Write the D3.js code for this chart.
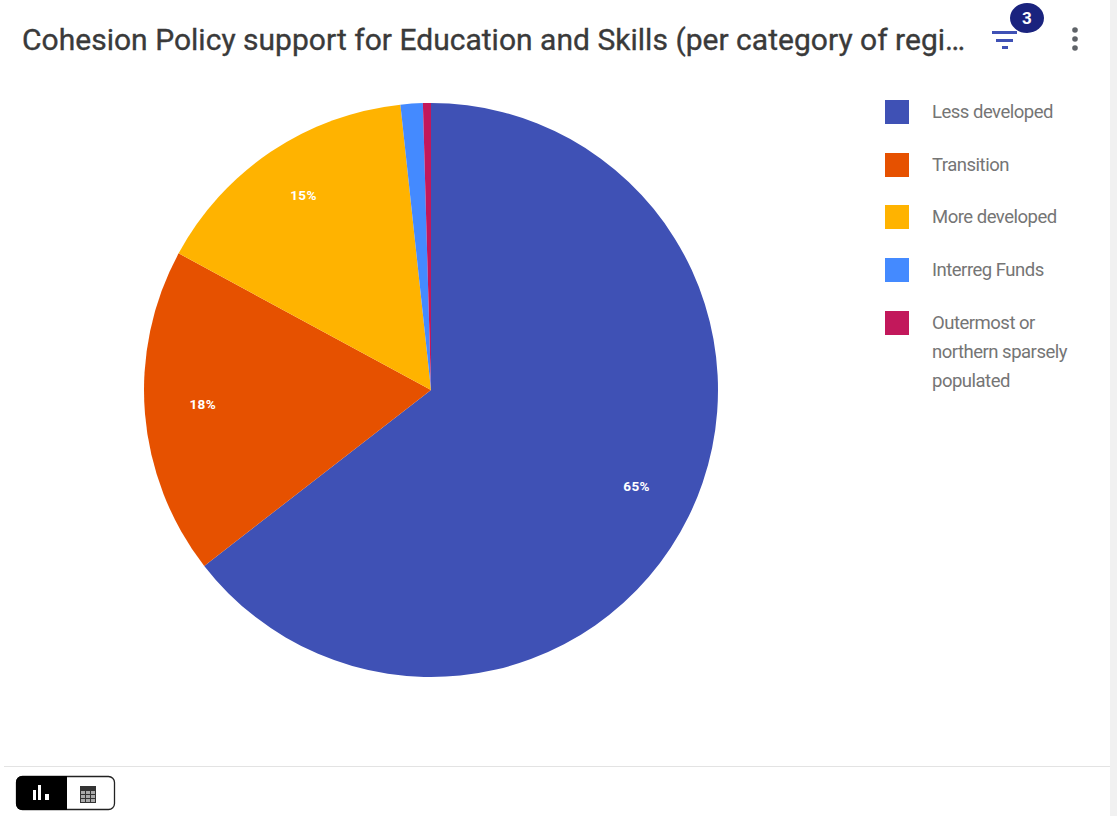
<!DOCTYPE html>
<html>
<head>
<meta charset="utf-8">
<title>Cohesion Policy support for Education and Skills</title>
<script src="https://cdn.jsdelivr.net/npm/d3@7/dist/d3.min.js"></script>
<style>
  html, body { margin: 0; padding: 0; background: #fff; overflow: hidden; }
  svg { display: block; font-family: Roboto, sans-serif; }
</style>
</head>
<body>
<svg id="chart" width="1117" height="816"></svg>
<script>
// Share of funding per category of region, in percent
const categories = ["Less developed", "Transition", "More developed", "Interreg Funds", "Outermost or northern sparsely populated"];
const shares = [64.5, 18.4, 15.4, 1.25, 0.45];
const sliceColors = ["#3f51b5", "#e65100", "#ffb300", "#448aff", "#c2185b"];
const legendLines = [["Less developed"], ["Transition"], ["More developed"], ["Interreg Funds"], ["Outermost or", "northern sparsely", "populated"]];
const titleText = "Cohesion Policy support for Education and Skills (per category of regi…";
const filterCount = "3";
const minLabelShare = 5;

const svg = d3.select("#chart");

// Pie
const cx = 431, cy = 390, radius = 287, labelRadius = 229;
const pie = d3.pie().value(d => d.share).sort(null);
const arc = d3.arc().innerRadius(0).outerRadius(radius);
const labelArc = d3.arc().innerRadius(labelRadius).outerRadius(labelRadius);
const rows = categories.map((name, i) => ({ name, share: shares[i], color: sliceColors[i] }));
const arcs = pie(rows);

const pieG = svg.append("g").attr("transform", `translate(${cx},${cy})`);
pieG.selectAll("path").data(arcs).join("path")
  .attr("d", arc)
  .attr("fill", d => d.data.color);

pieG.selectAll("text").data(arcs.filter(d => d.data.share >= minLabelShare)).join("text")
  .attr("transform", d => `translate(${labelArc.centroid(d)})`)
  .attr("text-anchor", "middle")
  .attr("fill", "#fff")
  .attr("font-size", 13.5)
  .attr("letter-spacing", "0.4px")
  .attr("font-weight", 700)
  .text(d => `${Math.round(d.data.share)}%`);

// Title bar
svg.append("text")
  .attr("x", 22).attr("y", 50)
  .attr("font-size", 30)
  .attr("letter-spacing", "0.02px")
  .attr("fill", "#3a3a3a")
  .attr("stroke", "#3a3a3a")
  .attr("stroke-width", 0.35)
  .text(titleText);

// Filter icon with count badge
const filterG = svg.append("g").attr("fill", "#3f51b5");
[[992, 31, 25], [996, 39, 17], [1002, 46, 6]].forEach(([x, y, w]) =>
  filterG.append("rect").attr("x", x).attr("y", y).attr("width", w).attr("height", 3));
svg.append("ellipse").attr("cx", 1027).attr("cy", 18).attr("rx", 17).attr("ry", 15).attr("fill", "#1a237e");
svg.append("text").attr("x", 1027).attr("y", 24)
  .attr("text-anchor", "middle").attr("font-size", 17).attr("font-weight", 700)
  .attr("fill", "#fff").text(filterCount);

// Overflow menu dots
svg.append("g").attr("fill", "#5f6368").selectAll("circle").data([30, 39, 48]).join("circle")
  .attr("cx", 1075).attr("cy", d => d).attr("r", 2.8);

// Legend
const legendY = [100, 153, 205, 258, 311];
const legend = svg.append("g");
rows.forEach((row, i) => {
  legend.append("rect")
    .attr("x", 885).attr("y", legendY[i])
    .attr("width", 24).attr("height", 24)
    .attr("fill", row.color);
  legendLines[i].forEach((line, j) => {
    legend.append("text")
      .attr("x", 932).attr("y", legendY[i] + 18 + j * 29)
      .attr("font-size", 18.5).attr("letter-spacing", "-0.5px")
      .attr("fill", "#757575")
      .text(line);
  });
});

// Right edge strip and footer rule
svg.append("rect").attr("x", 1110).attr("y", 0).attr("width", 7).attr("height", 816).attr("fill", "#f1f1f1");
svg.append("rect").attr("x", 4).attr("y", 766).attr("width", 1106).attr("height", 1).attr("fill", "#e3e3e3");

// Chart / table view toggle
svg.append("rect").attr("x", 16.5).attr("y", 776.5).attr("width", 98).attr("height", 33).attr("rx", 6)
  .attr("fill", "#fff").attr("stroke", "#222").attr("stroke-width", 1.3);
svg.append("path").attr("d", "M22,776 H67 V810 H22 A6,6 0 0 1 16,804 V782 A6,6 0 0 1 22,776 Z").attr("fill", "#000");
svg.append("g").attr("fill", "#fff").selectAll("rect").data([[33, 790, 3, 10], [38, 785, 3, 15], [45, 794, 4, 6]]).join("rect")
  .attr("x", d => d[0]).attr("y", d => d[1]).attr("width", d => d[2]).attr("height", d => d[3]);
svg.append("rect").attr("x", 80).attr("y", 786).attr("width", 16).attr("height", 17).attr("fill", "#333");
const gridG = svg.append("g").attr("fill", "#aaa");
[791, 795, 799].forEach(y => [81, 86, 91].forEach(x =>
  gridG.append("rect").attr("x", x).attr("y", y).attr("width", 4).attr("height", 3)));
</script>
</body>
</html>
